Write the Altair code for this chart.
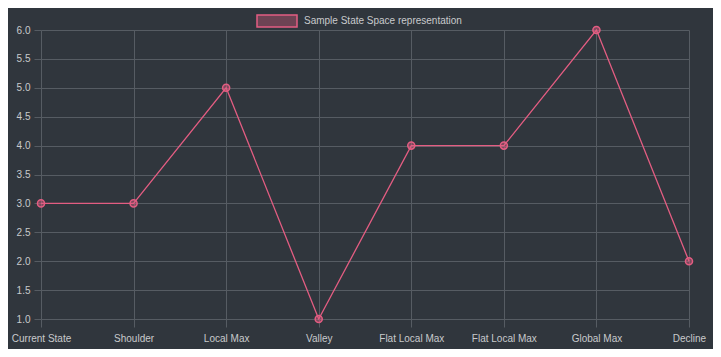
import altair as alt
import pandas as pd

categories = ["Current State", "Shoulder", "Local Max", "Valley", "Flat Local Max",
              "Flat Local Max", "Global Max", "Decline"]
values = [3, 3, 5, 1, 4, 4, 6, 2]
series_name = "Sample State Space representation"

df = pd.DataFrame({"idx": list(range(len(categories))), "cat": categories, "val": values})

BG = "#30363d"
PINK = "#e35d82"
GRID = "#565c63"
TXT = "#c8cacc"
FONT = "Liberation Sans"

label_map = "{" + ",".join(f"'{i}':'{c}'" for i, c in enumerate(categories)) + "}"

x = alt.X("idx:Q", scale=alt.Scale(domain=[0, len(categories) - 1], nice=False, zero=False),
          axis=alt.Axis(values=list(range(len(categories))), title=None,
                        labelExpr=f"{label_map}[datum.value]",
                        grid=True, gridColor=GRID, domain=False,
                        tickColor=GRID, tickSize=8, labelPadding=6,
                        labelColor=TXT, labelFont=FONT, labelFontSize=10,
                        labelFlush=False, labelOverlap=False))
y = alt.Y("val:Q", scale=alt.Scale(domain=[1, 6], nice=False, zero=False),
          axis=alt.Axis(values=[1 + 0.5 * i for i in range(11)], format=".1f", title=None,
                        grid=True, gridColor=GRID, domain=False,
                        tickColor=GRID, tickSize=7, labelPadding=4,
                        labelColor=TXT, labelFont=FONT, labelFontSize=10))

line = alt.Chart(df).mark_line(color=PINK, strokeWidth=1.3).encode(x=x, y=y)
pts = alt.Chart(df).mark_point(shape="circle", size=50, filled=True, fill=PINK, fillOpacity=0.45,
                               stroke=PINK, strokeWidth=1.5, opacity=1).encode(x=x, y=y)

leg_df = pd.DataFrame({"name": [series_name]})
leg_box = alt.Chart(leg_df).mark_rect(fill=PINK, fillOpacity=0.35, stroke=PINK, strokeWidth=1.5).encode(
    x=alt.value(216), x2=alt.value(256), y=alt.value(-15), y2=alt.value(-3))
leg_txt = alt.Chart(leg_df).mark_text(align="left", baseline="middle", color=TXT, font=FONT,
                                      fontSize=10).encode(
    text="name:N", x=alt.value(263), y=alt.value(-9))

chart = alt.layer(line, pts, leg_box, leg_txt).properties(
    width=648, height=289, background=BG,
    padding={"left": 33, "top": 22, "right": 24, "bottom": 30},
    autosize=alt.AutoSizeParams(type="none"),
).configure_view(stroke=None)

chart.save("out.html", embed_options={"renderer": "svg", "actions": False})
